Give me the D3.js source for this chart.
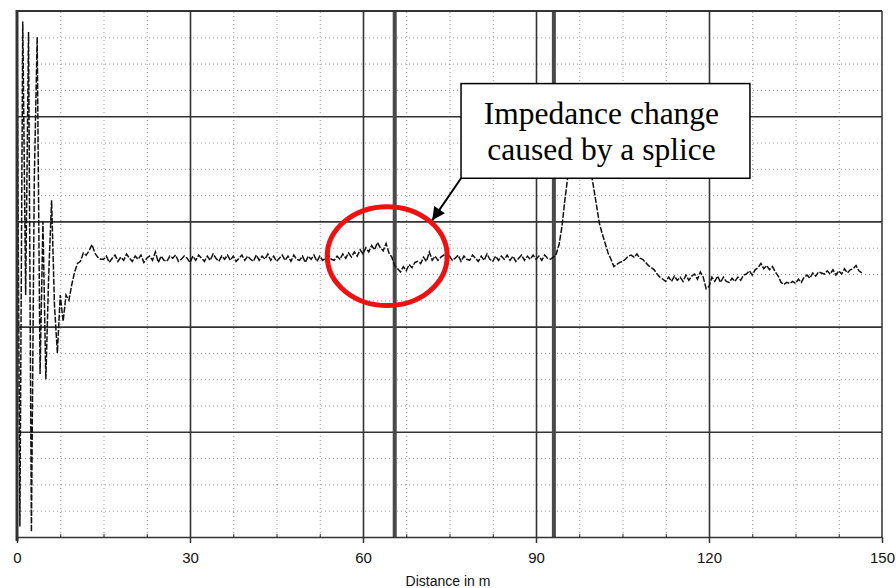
<!DOCTYPE html>
<html>
<head>
<meta charset="utf-8">
<script src="https://cdn.jsdelivr.net/npm/d3@7"></script>
<style>
  body { margin: 0; background: #fff; }
  svg { display: block; }
  .tick text { font-family: "Liberation Sans", Arial, sans-serif; }
</style>
</head>
<body>
<svg id="chart" width="896" height="588"></svg>
<script>
// OTDR-style trace, one sample every 0.5 m
const sampleStep = 0.5
const level = [
  4.95, 0.10, 4.90, 2.30, 4.80, 0.05, 3.40, 4.75, 1.55, 3.00,
  1.50, 2.50, 3.20, 2.20, 1.75, 2.30, 2.05, 2.30, 2.25, 2.40,
  2.52, 2.60, 2.62, 2.70, 2.68, 2.72, 2.78, 2.70, 2.66, 2.64,
  2.64, 2.67, 2.61, 2.65, 2.68, 2.62, 2.66, 2.63, 2.69, 2.65,
  2.62, 2.67, 2.64, 2.68, 2.61, 2.65, 2.67, 2.63, 2.71, 2.61,
  2.67, 2.63, 2.62, 2.67, 2.65, 2.68, 2.62, 2.64, 2.67, 2.65,
  2.61, 2.67, 2.63, 2.68, 2.65, 2.62, 2.67, 2.63, 2.69, 2.65,
  2.62, 2.67, 2.64, 2.68, 2.63, 2.67, 2.62, 2.65, 2.68, 2.63,
  2.67, 2.64, 2.62, 2.68, 2.63, 2.67, 2.64, 2.69, 2.63, 2.67,
  2.62, 2.65, 2.68, 2.63, 2.67, 2.62, 2.68, 2.64, 2.63, 2.67,
  2.61, 2.67, 2.64, 2.68, 2.62, 2.67, 2.63, 2.65, 2.68, 2.64,
  2.63, 2.67, 2.64, 2.69, 2.65, 2.70, 2.66, 2.71, 2.67, 2.73,
  2.69, 2.75, 2.71, 2.77, 2.73, 2.80, 2.75, 2.72, 2.79, 2.70,
  2.66, 2.58, 2.55, 2.52, 2.57, 2.53, 2.59, 2.56, 2.61, 2.62,
  2.60, 2.66, 2.62, 2.71, 2.63, 2.67, 2.63, 2.66, 2.68, 2.63,
  2.67, 2.63, 2.65, 2.68, 2.62, 2.67, 2.64, 2.63, 2.68, 2.65,
  2.62, 2.67, 2.63, 2.69, 2.64, 2.62, 2.67, 2.63, 2.67, 2.64,
  2.68, 2.63, 2.67, 2.62, 2.65, 2.68, 2.63, 2.67, 2.64, 2.68,
  2.64, 2.67, 2.63, 2.68, 2.65, 2.64, 2.66, 2.69, 2.78, 2.95,
  3.20, 3.42, 3.58, 3.74, 3.86, 3.93, 3.94, 3.85, 3.68, 3.48,
  3.32, 3.15, 2.98, 2.88, 2.79, 2.70, 2.64, 2.57, 2.59, 2.61,
  2.62, 2.64, 2.67, 2.68, 2.66, 2.69, 2.65, 2.64, 2.61, 2.58,
  2.56, 2.54, 2.50, 2.47, 2.45, 2.43, 2.47, 2.43, 2.48, 2.44,
  2.47, 2.43, 2.49, 2.44, 2.48, 2.50, 2.45, 2.52, 2.47, 2.36,
  2.38, 2.47, 2.43, 2.48, 2.42, 2.47, 2.43, 2.42, 2.46, 2.43,
  2.47, 2.44, 2.49, 2.50, 2.53, 2.49, 2.54, 2.56, 2.60, 2.55,
  2.58, 2.54, 2.57, 2.52, 2.48, 2.42, 2.40, 2.42, 2.41, 2.43,
  2.41, 2.45, 2.42, 2.47, 2.49, 2.46, 2.51, 2.48, 2.52, 2.51,
  2.50, 2.53, 2.50, 2.54, 2.49, 2.53, 2.50, 2.55, 2.51, 2.54,
  2.55, 2.58, 2.53, 2.51,
]

const xTicks = [0, 30, 60, 90, 120, 150]
const xMinor = [7.5, 15, 22.5, 37.5, 45, 52.5, 67.5, 75, 82.5, 97.5, 105, 112.5, 127.5, 135, 142.5]
const yMajor = [1, 2, 3, 4]
const yMinor = [0.25, 0.5, 0.75, 1.25, 1.5, 1.75, 2.25, 2.5, 2.75, 3.25, 3.5, 3.75, 4.25, 4.5, 4.75]
const cursors = [65.5, 93.1]          // the two marker lines, in m
const xLabel = 'Distance in m'
const noteLines = ['Impedance change', 'caused by a splice']

const pLeft = 17, pTop = 11, pRight = 882, pBottom = 537
const svg = d3.select('#chart')
const x = d3.scaleLinear().domain([0, 150]).range([pLeft, pRight])
const y = d3.scaleLinear().domain([0, 5]).range([pBottom, pTop])
const ph = pBottom - pTop, pw = pRight - pLeft

// dotted minor grid
const dotted = (g) => {
  g.select('.domain').remove()
  g.selectAll('line')
    .attr('stroke', '#999')
    .attr('stroke-width', 1)
    .attr('stroke-dasharray', '1,3')
}
svg.append('g')
  .attr('transform', `translate(0,${pBottom})`)
  .call(d3.axisBottom(x).tickValues(xMinor).tickSize(-ph).tickFormat(''))
  .call(dotted)

svg.append('g')
  .attr('transform', `translate(${pLeft},0)`)
  .call(d3.axisLeft(y).tickValues(yMinor).tickSize(-pw).tickFormat(''))
  .call(dotted)

// solid major grid
svg.append('g')
  .attr('transform', `translate(0,${pBottom})`)
  .call(d3.axisBottom(x).tickValues(xTicks.slice(1, -1)).tickSize(-ph).tickFormat(''))
  .call((g) => g.select('.domain').remove())
  .call((g) => g.selectAll('line').attr('stroke', '#333').attr('stroke-width', 1.6))

svg.append('g')
  .attr('transform', `translate(${pLeft},0)`)
  .call(d3.axisLeft(y).tickValues(yMajor).tickSize(-pw).tickFormat(''))
  .call((g) => g.select('.domain').remove())
  .call((g) => g.selectAll('line').attr('stroke', '#333').attr('stroke-width', 1.6))

// marker cursors
svg.selectAll('line.cursor')
  .data(cursors)
  .join('line')
  .attr('class', 'cursor')
  .attr('x1', (d) => x(d)).attr('x2', (d) => x(d))
  .attr('y1', pTop).attr('y2', pBottom)
  .attr('stroke', '#4a4a4a')
  .attr('stroke-width', 4)

// trace
const line = d3.line()
  .x((d, i) => x(i * sampleStep))
  .y((d) => y(d))
svg.append('path')
  .datum(level)
  .attr('d', line)
  .attr('fill', 'none')
  .attr('stroke', '#111')
  .attr('stroke-width', 1.5)
  .attr('stroke-dasharray', '6,1.6')

// frame
svg.append('line')
  .attr('x1', pLeft).attr('x2', pLeft).attr('y1', pTop - 1).attr('y2', pBottom + 4)
  .attr('stroke', '#333').attr('stroke-width', 3)
svg.append('line')
  .attr('x1', pLeft).attr('x2', pRight).attr('y1', pTop).attr('y2', pTop)
  .attr('stroke', '#333').attr('stroke-width', 2)
svg.append('line')
  .attr('x1', pRight).attr('x2', pRight).attr('y1', pTop).attr('y2', pBottom)
  .attr('stroke', '#333').attr('stroke-width', 1.5)

// x axis
svg.append('g')
  .attr('transform', `translate(0,${pBottom})`)
  .call(d3.axisBottom(x).tickValues(xTicks).tickSize(6).tickSizeOuter(0).tickPadding(9))
  .call((g) => g.select('.domain').attr('stroke', '#333').attr('stroke-width', 1.5))
  .call((g) => g.selectAll('line').attr('stroke', '#333').attr('stroke-width', 1.5))
  .call((g) => g.selectAll('text').attr('font-size', 15).attr('fill', '#111'))

svg.append('g')
  .attr('transform', `translate(0,${pBottom})`)
  .call(d3.axisTop(x).tickValues(xMinor).tickSize(3).tickFormat(''))
  .call((g) => g.select('.domain').remove())
  .call((g) => g.selectAll('line').attr('stroke', '#333'))

svg.append('text')
  .attr('x', 448).attr('y', 586)
  .attr('text-anchor', 'middle')
  .attr('font-family', '"Liberation Sans", Arial, sans-serif')
  .attr('font-size', 14)
  .attr('fill', '#111')
  .text(xLabel)

// annotation: red ellipse round the splice, arrow and callout box
svg.append('ellipse')
  .attr('cx', x(64.2)).attr('cy', y(2.67))
  .attr('rx', x(64.2) - x(53.8)).attr('ry', y(2.2) - y(2.67))
  .attr('fill', 'none')
  .attr('stroke', '#ee1111')
  .attr('stroke-width', 5)

svg.append('defs').append('marker')
  .attr('id', 'head')
  .attr('viewBox', '0 0 10 10')
  .attr('refX', 10).attr('refY', 5)
  .attr('markerWidth', 16).attr('markerHeight', 13)
  .attr('markerUnits', 'userSpaceOnUse')
  .attr('orient', 'auto')
  .append('path')
  .attr('d', 'M0,0L10,5L0,10z')
  .attr('fill', '#000')

const box = { x0: 77.0, x1: 127.1, y0: 4.31, y1: 3.41 }
svg.append('line')
  .attr('x1', x(box.x0)).attr('y1', y(box.y1))
  .attr('x2', x(72.0)).attr('y2', y(3.01))
  .attr('stroke', '#000').attr('stroke-width', 2)
  .attr('marker-end', 'url(#head)')

svg.append('rect')
  .attr('x', x(box.x0)).attr('y', y(box.y0))
  .attr('width', x(box.x1) - x(box.x0)).attr('height', y(box.y1) - y(box.y0))
  .attr('fill', '#fff')
  .attr('stroke', '#000')
  .attr('stroke-width', 1.5)

svg.append('text')
  .attr('font-family', '"Liberation Serif", "Times New Roman", serif')
  .attr('font-size', 31.5)
  .attr('fill', '#000')
  .selectAll('tspan')
  .data(noteLines)
  .join('tspan')
  .attr('x', (x(box.x0) + x(box.x1)) / 2 - 4)
  .attr('y', (d, i) => 124 + i * 36)
  .attr('text-anchor', 'middle')
  .text((d) => d)
</script>
</body>
</html>
